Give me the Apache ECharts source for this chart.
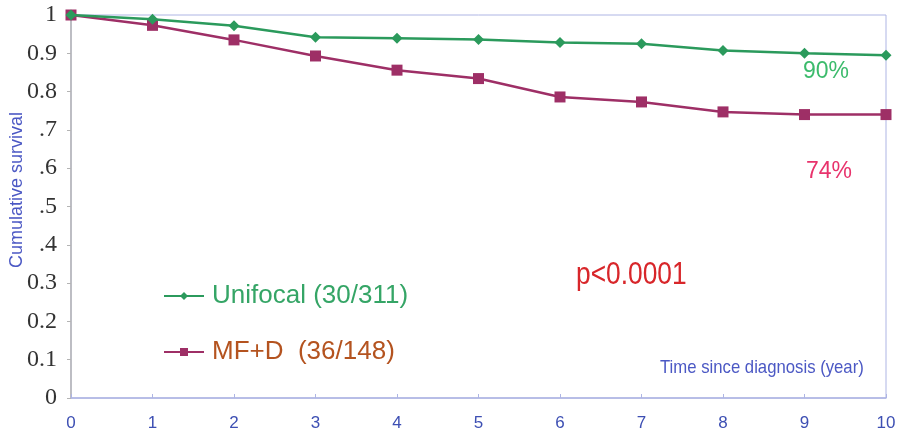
<!DOCTYPE html>
<html><head><meta charset="utf-8">
<script src="https://cdn.jsdelivr.net/npm/echarts@6/dist/echarts.min.js"></script>
<style>html,body{margin:0;padding:0;background:#fff}#c{width:898px;height:436px}</style>
</head><body><div id="c"></div>
<script>
var years = [0,1,2,3,4,5,6,7,8,9,10];
var unifocal = [1,0.989,0.972,0.942,0.939,0.936,0.928,0.925,0.907,0.900,0.895];
var mfd = [1,0.973,0.935,0.893,0.856,0.834,0.786,0.773,0.747,0.740,0.740];
var yTickLabels = {'0':'0','0.1':'0.1','0.2':'0.2','0.3':'0.3','0.4':'.4','0.5':'.5','0.6':'.6','0.7':'.7','0.8':'0.8','0.9':'0.9','1':'1'};
var seriesNames = ['Unifocal (30/311)','MF+D  (36/148)'];

function pairs(ys){return years.map(function(x,i){return [x,ys[i]];});}
var chart = echarts.init(document.getElementById('c'));
var sans = '"Liberation Sans",sans-serif';
chart.setOption({
  animation:false,
  grid:{left:71,right:12,top:15,bottom:38,show:true,borderColor:'#aeb5e4',borderWidth:1,backgroundColor:'#fff',outerBoundsMode:'none',containLabel:false},
  legend:{
    orient:'vertical',left:163,top:283,itemGap:30,itemWidth:40,itemHeight:10,padding:0,
    data:[
      {name:seriesNames[0],textStyle:{color:'#35a566'}},
      {name:seriesNames[1],textStyle:{color:'#b4531f'}}
    ],
    textStyle:{fontSize:26,fontFamily:sans,padding:[0,0,0,3]}
  },
  xAxis:{type:'value',min:0,max:10,interval:1,
    axisLine:{lineStyle:{color:'#aeb5e4',width:1.5}},
    axisTick:{inside:true,length:4,lineStyle:{color:'#aeb5e4'}},
    axisLabel:{color:'#3d4fb3',fontSize:17,fontFamily:sans,margin:17},
    splitLine:{show:false}},
  yAxis:{type:'value',min:0,max:1,interval:0.1,
    axisLine:{show:true,lineStyle:{color:'#b4b4b4',width:1.5}},
    axisTick:{show:true,length:4,lineStyle:{color:'#b4b4b4'}},
    axisLabel:{color:'#333',fontSize:24,fontFamily:'"Liberation Serif",serif',margin:14,
      formatter:function(v){var k=String(Math.round(v*10)/10);return yTickLabels[k]!==undefined?yTickLabels[k]:k;}},
    splitLine:{show:false}},
  series:[
    {name:seriesNames[0],type:'line',data:pairs(unifocal),symbol:'diamond',symbolSize:11,
     lineStyle:{color:'#2b9a5c',width:2.5},itemStyle:{color:'#2b9a5c'},z:3},
    {name:seriesNames[1],type:'line',data:pairs(mfd),symbol:'rect',symbolSize:11,
     lineStyle:{color:'#9e2f66',width:2.5},itemStyle:{color:'#9e2f66'},z:2}
  ],
  graphic:[
    {type:'text',x:17,y:190,rotation:Math.PI/2,style:{text:'Cumulative survival',fill:'#4b58c4',font:'18px '+sans,align:'center',verticalAlign:'middle'}},
    {type:'text',x:576,y:275,scaleX:0.85,style:{text:'p<0.0001',fill:'#d8262a',font:'31px '+sans,verticalAlign:'middle'}},
    {type:'text',x:803,y:72,style:{text:'90%',fill:'#3cbb6c',font:'23px '+sans,verticalAlign:'middle'}},
    {type:'text',x:806,y:172,style:{text:'74%',fill:'#e8336c',font:'23px '+sans,verticalAlign:'middle'}},
    {type:'text',x:660,y:368,scaleX:0.88,style:{text:'Time since diagnosis (year)',fill:'#4b58c4',font:'19px '+sans,verticalAlign:'middle'}}
  ]
});
</script></body></html>
